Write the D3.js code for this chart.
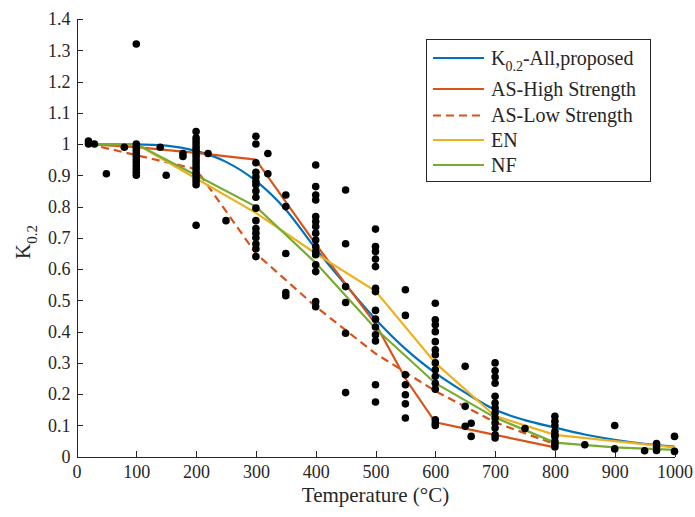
<!DOCTYPE html>
<html>
<head>
<meta charset="utf-8">
<script src="https://cdn.jsdelivr.net/npm/d3@7"></script>
<style>
  body { margin: 0; background: #fff; }
  text { font-family: "Liberation Serif", "Times New Roman", serif; fill: #262626; }
</style>
</head>
<body>
<div id="chart"></div>
<script>

// Axis ticks.
const xTicks = [0, 100, 200, 300, 400, 500, 600, 700, 800, 900, 1000];
const xTickLabels = ['0', '100', '200', '300', '400', '500', '600', '700', '800', '900', '1000'];
const yTicks = [0, 0.1, 0.2, 0.3, 0.4, 0.5, 0.6, 0.7, 0.8, 0.9, 1, 1.1, 1.2, 1.3, 1.4];
const yTickLabels = ['0', '0.1', '0.2', '0.3', '0.4', '0.5', '0.6', '0.7', '0.8', '0.9', '1', '1.1', '1.2', '1.3', '1.4'];

// Curves, [temperature, k].
const proposed = [
  [20, 1.0], [100, 0.999], [150, 0.995], [200, 0.978], [250, 0.943], [300, 0.882],
  [350, 0.79], [400, 0.665], [450, 0.55], [500, 0.44], [550, 0.345], [600, 0.268],
  [650, 0.205], [700, 0.15], [750, 0.117], [800, 0.093], [850, 0.071], [900, 0.054],
  [950, 0.041], [1000, 0.032]
];
const asHigh = [
  [20, 1.0], [100, 0.99], [200, 0.972], [300, 0.95], [400, 0.68], [500, 0.425],
  [550, 0.25], [600, 0.11], [700, 0.07], [800, 0.03]
];
const asLow = [
  [20, 1.0], [200, 0.92], [300, 0.65], [400, 0.48], [500, 0.33], [600, 0.21],
  [700, 0.11], [800, 0.04]
];
const en = [
  [20, 1.0], [100, 1.0], [200, 0.89], [300, 0.78], [400, 0.65], [500, 0.53],
  [600, 0.30], [700, 0.13], [800, 0.07], [900, 0.05], [1000, 0.03]
];
const nf = [
  [20, 1.0], [100, 1.0], [200, 0.9], [300, 0.8], [400, 0.62], [500, 0.41],
  [600, 0.235], [700, 0.125], [800, 0.045], [900, 0.03], [1000, 0.022]
];

// Test results, [temperature, k].
const tests = [
  [20, 1.01], [20, 1.0], [30, 1.0], [50, 0.905], [80, 0.99],
  [100, 1.32], [100, 1.0], [100, 0.99], [100, 0.98], [100, 0.97], [100, 0.96], [100, 0.95],
  [100, 0.94], [100, 0.93], [100, 0.92], [100, 0.91], [100, 0.90],
  [140, 0.99], [150, 0.90], [178, 0.97], [178, 0.96],
  [200, 1.04], [200, 1.02], [200, 1.01], [200, 1.0], [200, 0.99], [200, 0.98], [200, 0.97],
  [200, 0.96], [200, 0.95], [200, 0.94], [200, 0.93], [200, 0.92], [200, 0.91], [200, 0.90],
  [200, 0.89], [200, 0.88], [200, 0.87], [200, 0.74],
  [220, 0.97], [250, 0.755],
  [300, 1.025], [300, 1.0], [300, 0.94], [300, 0.91], [300, 0.895], [300, 0.88], [300, 0.87],
  [300, 0.85], [300, 0.83], [300, 0.795], [300, 0.755], [300, 0.73], [300, 0.715], [300, 0.70],
  [300, 0.68], [300, 0.665], [300, 0.64],
  [320, 0.97], [320, 0.905],
  [350, 0.837], [350, 0.80], [350, 0.65], [350, 0.525], [350, 0.515],
  [400, 0.933], [400, 0.864], [400, 0.837], [400, 0.821], [400, 0.768], [400, 0.752],
  [400, 0.736], [400, 0.715], [400, 0.693], [400, 0.672], [400, 0.656], [400, 0.646],
  [400, 0.614], [400, 0.592], [400, 0.496], [400, 0.48],
  [450, 0.853], [450, 0.681], [450, 0.544], [450, 0.493], [450, 0.395], [450, 0.205],
  [500, 0.728], [500, 0.672], [500, 0.656], [500, 0.632], [500, 0.608], [500, 0.539],
  [500, 0.528], [500, 0.468], [500, 0.44], [500, 0.415], [500, 0.39], [500, 0.37],
  [500, 0.23], [500, 0.175],
  [550, 0.534], [550, 0.452], [550, 0.262], [550, 0.23], [550, 0.198], [550, 0.169], [550, 0.124],
  [600, 0.491], [600, 0.438], [600, 0.422], [600, 0.40], [600, 0.368], [600, 0.342],
  [600, 0.326], [600, 0.30], [600, 0.278], [600, 0.257], [600, 0.235], [600, 0.216],
  [600, 0.118], [600, 0.108], [600, 0.10],
  [650, 0.289], [650, 0.161], [650, 0.097], [660, 0.107], [660, 0.065],
  [700, 0.30], [700, 0.275], [700, 0.255], [700, 0.235], [700, 0.193], [700, 0.172],
  [700, 0.156], [700, 0.14], [700, 0.124], [700, 0.108], [700, 0.092], [700, 0.07], [700, 0.06],
  [750, 0.09],
  [800, 0.129], [800, 0.113], [800, 0.10], [800, 0.081], [800, 0.07], [800, 0.065],
  [800, 0.049], [800, 0.04], [800, 0.031],
  [850, 0.038], [900, 0.10], [900, 0.025], [950, 0.019],
  [970, 0.042], [970, 0.031], [970, 0.02], [1000, 0.065], [1000, 0.017]
];

// Legend entries.
const legendNames = ['-All,proposed', 'AS-High Strength', 'AS-Low Strength', 'EN', 'NF'];

const width = 695, height = 517;

const svg = d3.select('#chart').append('svg')
  .attr('width', width)
  .attr('height', height);

const x = d3.scaleLinear().domain([0, 1000]).range([76.5, 674.5]);
const y = d3.scaleLinear().domain([0, 1.4]).range([456.7, 19]);

// Axes, MATLAB style: inward ticks, no box.
const xAxis = svg.append('g')
  .attr('transform', `translate(0,${y(0)})`)
  .call(d3.axisBottom(x).tickValues(xTicks).tickSizeInner(-6).tickSizeOuter(0).tickPadding(9)
    .tickFormat((d, i) => xTickLabels[i]));

const yAxis = svg.append('g')
  .attr('transform', `translate(${x(0)},0)`)
  .call(d3.axisLeft(y).tickValues(yTicks).tickSizeInner(-6).tickSizeOuter(0).tickPadding(6)
    .tickFormat((d, i) => yTickLabels[i]));

[xAxis, yAxis].forEach(g => {
  g.selectAll('path, line').attr('stroke', '#262626').attr('shape-rendering', 'crispEdges');
  g.selectAll('text').attr('font-size', 18).attr('font-family', null);
});

// Curves.
const line = d3.line().x(d => x(d[0])).y(d => y(d[1]));

const curves = [
  { data: proposed, color: '#0072BD', dash: null, curve: d3.curveMonotoneX },
  { data: asHigh, color: '#D95319', dash: null, curve: d3.curveLinear },
  { data: asLow, color: '#D95319', dash: '8,5', curve: d3.curveLinear },
  { data: en, color: '#EDB120', dash: null, curve: d3.curveLinear },
  { data: nf, color: '#77AC30', dash: null, curve: d3.curveLinear }
];

svg.append('g').selectAll('path')
  .data(curves)
  .join('path')
  .attr('d', c => line.curve(c.curve)(c.data))
  .attr('fill', 'none')
  .attr('stroke', c => c.color)
  .attr('stroke-width', 2.2)
  .attr('stroke-dasharray', c => c.dash);

// Test points.
svg.append('g').selectAll('circle')
  .data(tests)
  .join('circle')
  .attr('cx', d => x(d[0]))
  .attr('cy', d => y(d[1]))
  .attr('r', 3.8)
  .attr('fill', '#000');

// Axis labels.
svg.append('text')
  .attr('x', (x(0) + x(1000)) / 2)
  .attr('y', 502)
  .attr('text-anchor', 'middle')
  .attr('font-size', 21)
  .text('Temperature (°C)');

let ylab = svg.append('text')
  .attr('transform', 'translate(30,242) rotate(-90)')
  .attr('text-anchor', 'middle')
  .attr('font-size', 21);
ylab.append('tspan').text('K');
ylab.append('tspan').attr('font-size', 15).attr('dy', 7).text('0.2');

// Legend.
const legend = svg.append('g');
legend.append('rect')
  .attr('x', 426).attr('y', 39.5)
  .attr('width', 224.5).attr('height', 142)
  .attr('fill', '#fff')
  .attr('stroke', '#262626')
  .attr('shape-rendering', 'crispEdges');

const rowY = [58, 89, 115.5, 140, 165];

const rows = legend.selectAll('g.row')
  .data(curves)
  .join('g')
  .attr('class', 'row')
  .attr('transform', (c, i) => `translate(0,${rowY[i]})`);

rows.append('line')
  .attr('x1', 433).attr('x2', 484)
  .attr('stroke', c => c.color)
  .attr('stroke-width', 2.2)
  .attr('stroke-dasharray', c => c.dash);

rows.each(function(c, i) {
  let t = d3.select(this).append('text')
    .attr('x', 491).attr('y', 6.5)
    .attr('font-size', 20);
  if (i === 0) {
    t.append('tspan').text('K');
    t.append('tspan').attr('font-size', 14).attr('dy', 6).text('0.2');
    t.append('tspan').attr('dy', -6).text(legendNames[i]);
  } else {
    t.text(legendNames[i]);
  }
});

</script>
</body>
</html>
